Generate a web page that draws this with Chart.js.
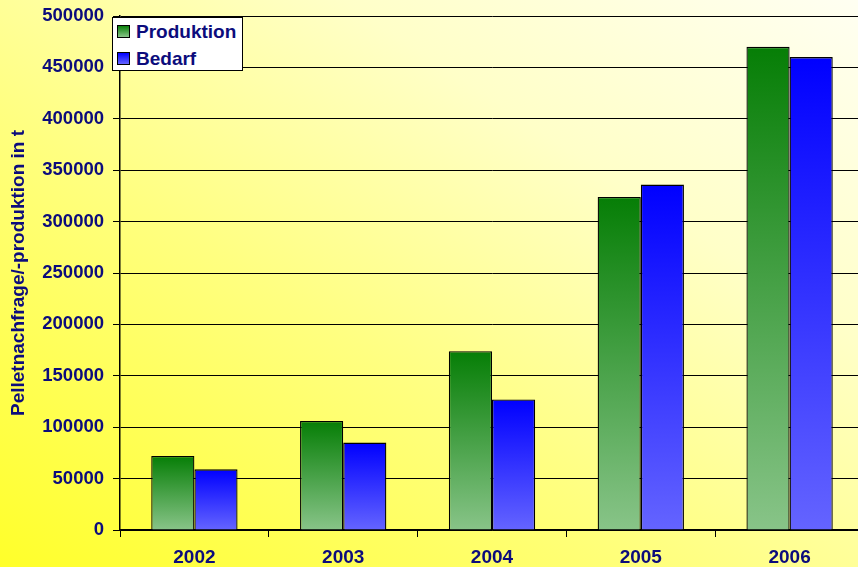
<!DOCTYPE html>
<html>
<head>
<meta charset="utf-8">
<script src="https://cdn.jsdelivr.net/npm/chart.js@4/dist/chart.umd.min.js"></script>
<style>
  html, body { margin:0; padding:0; width:858px; height:567px; overflow:hidden; }
  body { background: linear-gradient(to top right, #ffff2a 0%, #ffff80 40%, #ffffc8 70%, #fffff2 100%); position:relative; font-family:"Liberation Sans", Arial, sans-serif; }
  #wrap { position:absolute; left:0; top:0; width:864px; height:567px; }
  #legend { position:absolute; left:112px; top:17px; width:131px; height:54px; background:#fff; border:1px solid #000; box-sizing:border-box; }
  .item { position:absolute; left:4px; font-weight:bold; font-size:19px; color:#0c0c7c; line-height:22px; white-space:nowrap; }
  .sw { display:inline-block; width:11px; height:11px; border:1px solid #000; margin-right:6px; vertical-align:0px; }
</style>
</head>
<body>
<div id="wrap"><canvas id="c" width="864" height="567"></canvas></div>
<div id="legend">
  <div class="item" style="top:3px"><span class="sw" style="background:linear-gradient(#0a800a,#88c488)"></span>Produktion</div>
  <div class="item" style="top:30px"><span class="sw" style="background:linear-gradient(#0000ff,#6464ff)"></span>Bedarf</div>
</div>
<script>
const categories = ["2002", "2003", "2004", "2005", "2006"];
const produktion = [72000, 106000, 174000, 324000, 470000];
const bedarf = [59000, 85000, 127000, 336000, 460000];
const yTicks = [0, 50000, 100000, 150000, 200000, 250000, 300000, 350000, 400000, 450000, 500000];
const seriesNames = ["Produktion", "Bedarf"];

const navy = "#0c0c7c";

function barGradient(topColor, bottomColor) {
  return function(ctx) {
    const chart = ctx.chart;
    if (!chart.chartArea || ctx.type !== "data") return topColor;
    const y = chart.scales.y;
    const top = y.getPixelForValue(ctx.raw);
    const bottom = y.getPixelForValue(0);
    if (!isFinite(top) || !isFinite(bottom) || bottom - top < 1) return topColor;
    const g = chart.ctx.createLinearGradient(0, top, 0, bottom);
    g.addColorStop(0, topColor);
    g.addColorStop(1, bottomColor);
    return g;
  };
}

new Chart(document.getElementById("c"), {
  type: "bar",
  data: {
    labels: categories,
    datasets: [
      { label: seriesNames[0], data: produktion, backgroundColor: barGradient("#067e06", "#88c488"), borderColor: "#000", borderWidth: 1.3, borderSkipped: "bottom", categoryPercentage: 0.58, barPercentage: 1 },
      { label: seriesNames[1], data: bedarf, backgroundColor: barGradient("#0000ff", "#6464ff"), borderColor: "#000", borderWidth: 1.3, borderSkipped: "bottom", categoryPercentage: 0.58, barPercentage: 1 }
    ]
  },
  options: {
    responsive: false,
    animation: false,
    layout: { padding: { top: 16, right: 0, left: 0, bottom: 0 } },
    plugins: { legend: { display: false }, tooltip: { enabled: false } },
    scales: {
      x: {
        grid: { display: true, drawOnChartArea: false, drawTicks: true, tickLength: 7, color: "#000", offset: true },
        border: { display: true, color: "#000", width: 1.5 },
        ticks: { color: navy, font: { family: "Liberation Sans", size: 19, weight: "bold" }, padding: 9 },
        afterFit: s => { s.height = 37; s.paddingLeft = 0; s.paddingRight = 0; }
      },
      y: {
        min: 0, max: 500000,
        afterBuildTicks: s => { s.ticks = yTicks.map(v => ({ value: v })); },
        grid: { color: "#000", lineWidth: 1, tickLength: 7, drawTicks: true },
        border: { display: true, color: "#000", width: 1.5 },
        ticks: { color: navy, font: { family: "Liberation Sans", size: 18.5, weight: "bold" }, padding: 9, callback: v => String(v) },
        title: { display: true, text: "Pelletnachfrage/-produktion in t", color: navy, font: { family: "Liberation Sans", size: 19, weight: "bold" }, padding: { top: 7, bottom: 0 } },
        afterFit: s => { s.width = 120; s.paddingTop = 0; s.paddingBottom = 0; }
      }
    }
  }
});
</script>
</body>
</html>
